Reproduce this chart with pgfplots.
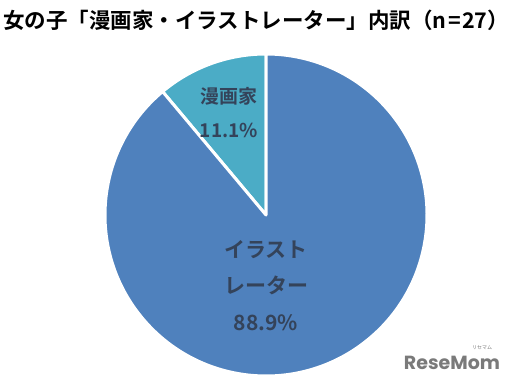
\documentclass[border=0pt]{standalone}
\usepackage{pgfplots}
\usepackage{pgfplotstable}
\pgfplotsset{compat=1.18}
\usepackage{fontspec}
\setmainfont{Noto Sans CJK JP}[BoldFont={* Bold}]
\newfontfamily\logofont{Poppins}[BoldFont={* Bold}]
\definecolor{pieblue}{HTML}{4F81BD}
\definecolor{pieteal}{HTML}{4BACC6}
\definecolor{lbl}{HTML}{34435A}
\definecolor{logo}{HTML}{7A7A7A}
\pgfplotstableread{
label value
manga 11.1
illust 88.9
}\piedata
\begin{document}
\begin{tikzpicture}
\pgfplotstablegetelem{0}{value}\of\piedata \global\let\va\pgfplotsretval
\pgfplotstablegetelem{1}{value}\of\piedata \global\let\vb\pgfplotsretval
\pgfmathsetmacro{\aA}{90+3.6*\va}
\pgfmathsetmacro{\aB}{\aA+3.6*\vb}
\path[use as bounding box] (0,0) rectangle (517pt,383pt);
\begin{axis}[
  at={(0,0)}, anchor=south west,
  x=1pt, y=1pt, xmin=0, xmax=517, ymin=0, ymax=383,
  enlargelimits=false, hide axis, clip=false, scale only axis,
]
% slices
\fill[pieteal, draw=white, line width=3pt, line join=round]
  (axis cs:266,168) -- (axis cs:{266+161*cos(90)},{168+161*sin(90)})
  arc[start angle=90, end angle=\aA, radius=161pt] -- cycle;
\fill[pieblue, draw=white, line width=3pt, line join=round]
  (axis cs:266,168) -- (axis cs:{266+161*cos(\aA)},{168+161*sin(\aA)})
  arc[start angle=\aA, end angle=\aB, radius=161pt] -- cycle;
% labels
\node[text=lbl, font=\bfseries\fontsize{19}{22}\selectfont, inner sep=0] at (axis cs:229,287) {漫画家};
\node[text=lbl, font=\bfseries\fontsize{19}{22}\selectfont, inner sep=0] at (axis cs:229,253) {\va\%};
\node[text=lbl, font=\bfseries\fontsize{21}{24}\selectfont, inner sep=0] at (axis cs:266,133) {イラスト};
\node[text=lbl, font=\bfseries\fontsize{21}{24}\selectfont, inner sep=0] at (axis cs:266,98) {レーター};
\node[text=lbl, font=\bfseries\fontsize{21}{24}\selectfont, inner sep=0] at (axis cs:266,60) {\vb\%};
% title
\node[anchor=west, inner sep=0, font=\bfseries\fontsize{21.5}{26}\selectfont] at (axis cs:3,363) {女の子「漫画家・イラストレーター」内訳（n\hspace{1.5pt}=\hspace{1.5pt}27）};
% logo
\node[anchor=center, inner sep=0, text=logo, font=\logofont\bfseries\fontsize{19}{22}\selectfont] at (axis cs:452,20) {ReseMom};
\node[anchor=center, inner sep=0, text=logo, font=\fontsize{5}{6}\selectfont] at (axis cs:482,35) {リセマム};
\end{axis}
\end{tikzpicture}
\end{document}
